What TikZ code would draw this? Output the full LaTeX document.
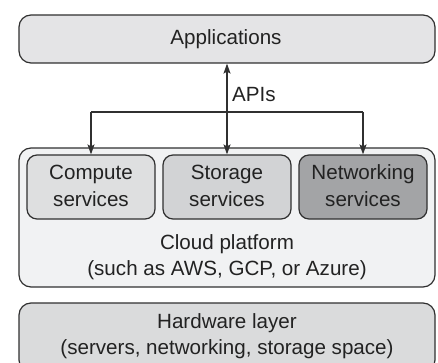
\documentclass[tikz,border=0pt]{standalone}
\usepackage{fontspec}
\setmainfont{Liberation Sans}
\usetikzlibrary{arrows.meta}
\definecolor{appfill}{HTML}{E4E4E6}
\definecolor{cloudfill}{HTML}{F1F2F3}
\definecolor{compfill}{HTML}{DEDFE0}
\definecolor{storfill}{HTML}{D2D3D5}
\definecolor{netfill}{HTML}{A3A4A6}
\definecolor{hwfill}{HTML}{DADBDC}
\definecolor{edge}{HTML}{303030}
\definecolor{txt}{HTML}{222222}
\begin{document}
\begin{tikzpicture}[x=1pt,y=-1pt,
  layerbox/.style={draw=edge, line width=1.2pt, rounded corners=12pt, minimum width=416pt, inner sep=0pt},
  servbox/.style={draw=edge, line width=1.2pt, rounded corners=10pt, minimum width=128pt, minimum height=64pt, inner sep=0pt},
  lbl/.style={anchor=base, inner sep=0pt, text=txt, font=\fontsize{20.6pt}{26pt}\selectfont},
  conn/.style={draw=edge, line width=1.2pt},
  tip/.style={-{Stealth[length=10pt,width=7pt,inset=2pt]}}]
\useasboundingbox (0,0) rectangle (438,363);
\begin{scope}
\clip (0,0) rectangle (438,363);
% layers
\node[layerbox, fill=appfill, minimum height=48pt] (app) at (227,39) {};
\node[layerbox, fill=cloudfill, minimum height=139pt] (cloud) at (227,217.5) {};
\node[layerbox, fill=hwfill, minimum height=69pt] (hw) at (227,337.5) {};
% services
\node[servbox, fill=compfill] (comp) at (91,187) {};
\node[servbox, fill=storfill] (stor) at (227,187) {};
\node[servbox, fill=netfill] (net) at (363,187) {};
\end{scope}
% labels
\node[lbl] (tapp) at (226,45) {Applications};
\node[lbl] (tcomp1) at (91,180) {Compute};
\node[lbl] (tcomp2) at (91,206) {services};
\node[lbl] (tstor1) at (227,180) {Storage};
\node[lbl] (tstor2) at (227,206) {services};
\node[lbl] (tnet1) at (363,180) {Networking};
\node[lbl] (tnet2) at (363,206) {services};
\node[lbl] (tcloud1) at (227,249) {Cloud platform};
\node[lbl] (tcloud2) at (227,275) {(such as AWS, GCP, or Azure)};
\node[lbl] (thw1) at (227,328) {Hardware layer};
\node[lbl] (thw2) at (227,354) {(servers, networking, storage space)};
% connectors
\coordinate (junL) at (comp.north |- 0,112);
\coordinate (junR) at (net.north |- 0,112);
\draw[conn, tip] (junL) -- (comp.north);
\draw[conn, tip] (junR) -- (net.north);
\draw[conn] (junL) -- (junR);
\draw[conn, {Stealth[length=10pt,width=7pt,inset=2pt]}-{Stealth[length=10pt,width=7pt,inset=2pt]}] (stor.north) -- (app.south);
\node[lbl, anchor=base west] (apis) at (232,102) {APIs};
\end{tikzpicture}
\end{document}
